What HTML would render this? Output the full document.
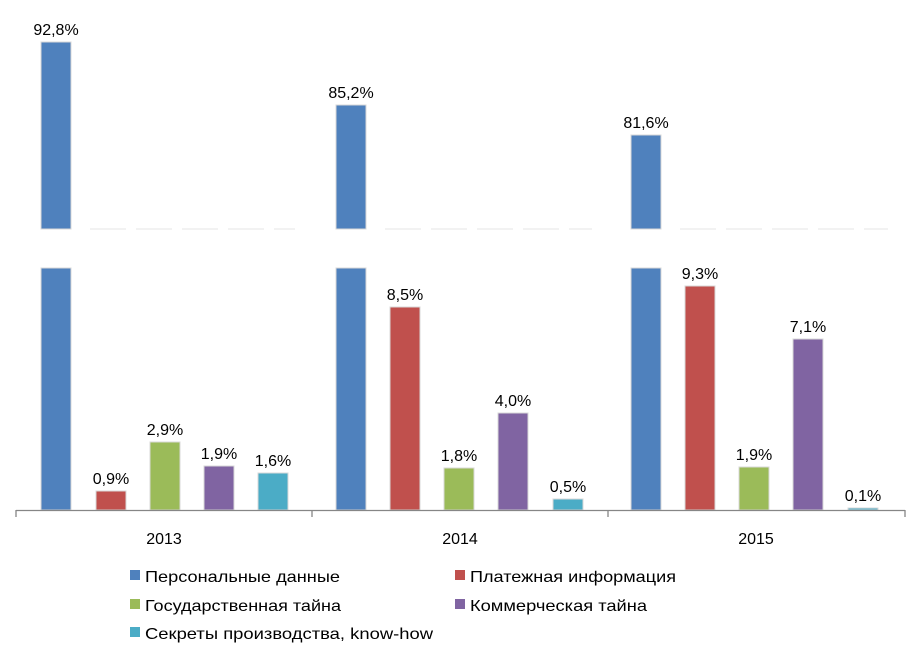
<!DOCTYPE html><html><head><meta charset="utf-8"><style>body{margin:0;background:#fff}svg{display:block;font-family:"Liberation Sans",sans-serif}</style></head><body>
<svg width="919" height="662" viewBox="0 0 919 662">
<g stroke="#e6e6e6" stroke-dasharray="36,10"><line x1="90" y1="229" x2="295" y2="229"/><line x1="385" y1="229" x2="592" y2="229"/><line x1="680" y1="229" x2="888" y2="229"/></g>
<g stroke="#d8d8d8" stroke-width="1">
<rect x="41" y="42" width="30" height="187" fill="#4f81bd"/>
<rect x="336" y="105" width="30" height="124" fill="#4f81bd"/>
<rect x="631" y="135" width="30" height="94" fill="#4f81bd"/>
<rect x="41" y="268" width="30" height="242" fill="#4f81bd"/>
<rect x="336" y="268" width="30" height="242" fill="#4f81bd"/>
<rect x="631" y="268" width="30" height="242" fill="#4f81bd"/>
<rect x="96" y="491" width="30" height="19" fill="#c0504d"/>
<rect x="150" y="442" width="30" height="68" fill="#9bbb59"/>
<rect x="204" y="466" width="30" height="44" fill="#8064a2"/>
<rect x="258" y="473" width="30" height="37" fill="#4bacc6"/>
<rect x="390" y="307" width="30" height="203" fill="#c0504d"/>
<rect x="444" y="468" width="30" height="42" fill="#9bbb59"/>
<rect x="498" y="413" width="30" height="97" fill="#8064a2"/>
<rect x="553" y="499" width="30" height="11" fill="#4bacc6"/>
<rect x="685" y="286" width="30" height="224" fill="#c0504d"/>
<rect x="739" y="467" width="30" height="43" fill="#9bbb59"/>
<rect x="793" y="339" width="30" height="171" fill="#8064a2"/>
<rect x="848" y="508" width="30" height="2" fill="#4bacc6"/>
</g>
<g stroke="#868686" stroke-width="1.3" fill="none"><line x1="16" y1="510.5" x2="905" y2="510.5"/><line x1="16" y1="510" x2="16" y2="517"/><line x1="312" y1="510" x2="312" y2="517"/><line x1="608" y1="510" x2="608" y2="517"/><line x1="905" y1="510" x2="905" y2="517"/></g>
<g font-size="16" fill="#000" text-anchor="middle">
<text x="56" y="35">92,8%</text><text x="351" y="98">85,2%</text><text x="646" y="128">81,6%</text>
<text x="111" y="484">0,9%</text><text x="165" y="435">2,9%</text><text x="219" y="459">1,9%</text><text x="273" y="466">1,6%</text>
<text x="405" y="300">8,5%</text><text x="459" y="461">1,8%</text><text x="513" y="406">4,0%</text><text x="568" y="492">0,5%</text>
<text x="700" y="279">9,3%</text><text x="754" y="460">1,9%</text><text x="808" y="332">7,1%</text><text x="863" y="501">0,1%</text>
<text x="164" y="544">2013</text><text x="460" y="544">2014</text><text x="756" y="544">2015</text>
</g>
<g font-size="16" fill="#000">
<rect x="130" y="570" width="10" height="10" fill="#4f81bd"/><text x="145" y="582" textLength="195" lengthAdjust="spacingAndGlyphs">Персональные данные</text>
<rect x="455" y="570" width="10" height="10" fill="#c0504d"/><text x="470" y="582" textLength="206" lengthAdjust="spacingAndGlyphs">Платежная информация</text>
<rect x="130" y="599" width="10" height="10" fill="#9bbb59"/><text x="145" y="611" textLength="196" lengthAdjust="spacingAndGlyphs">Государственная тайна</text>
<rect x="455" y="599" width="10" height="10" fill="#8064a2"/><text x="470" y="611" textLength="177" lengthAdjust="spacingAndGlyphs">Коммерческая тайна</text>
<rect x="130" y="627" width="10" height="10" fill="#4bacc6"/><text x="145" y="639" textLength="288" lengthAdjust="spacingAndGlyphs">Секреты производства, know-how</text>
</g>
</svg></body></html>
